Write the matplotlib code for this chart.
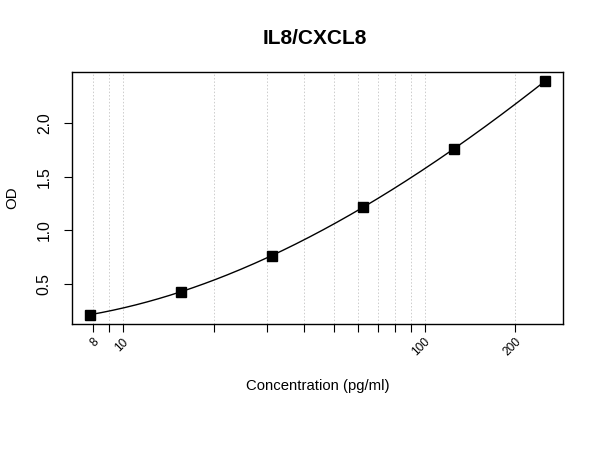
import numpy as np
import matplotlib
matplotlib.use("Agg")
import matplotlib.pyplot as plt
from matplotlib.ticker import FixedLocator, NullLocator, FixedFormatter

plt.rcParams['font.family'] = ['Liberation Sans', 'DejaVu Sans']

# standard curve points
conc = [7.8, 15.6, 31.25, 62.5, 125, 250]
od = [0.215, 0.43, 0.763, 1.22, 1.756, 2.389]

grid_x = [8, 9, 10, 20, 30, 40, 50, 60, 70, 80, 90, 100, 200]
label_x = [8, 10, 100, 200]
y_ticks = [0.5, 1.0, 1.5, 2.0]

fig = plt.figure(figsize=(6, 4.5), dpi=100)
ax = fig.add_axes([0.12, 0.28, 0.818, 0.56])

ax.set_xscale('log')
lx = np.log10(conc)
pad = (lx.max() - lx.min()) * 0.04
ax.set_xlim(10 ** (lx.min() - pad), 10 ** (lx.max() + pad))
ypad = (max(od) - min(od)) * 0.04
ax.set_ylim(min(od) - ypad, max(od) + ypad)

for g in grid_x:
    ax.axvline(g, color='#cccccc', lw=0.7, ls=(0, (1.5, 2)), zorder=0)

# smooth fit through the standards
coef = np.polyfit(lx, od, 3)
xs = np.linspace(lx.min(), lx.max(), 200)
ax.plot(10 ** xs, np.polyval(coef, xs), color='black', lw=1)
ax.plot(conc, od, 's', color='black', markersize=7.2, zorder=3)

ax.xaxis.set_major_locator(FixedLocator(grid_x))
ax.xaxis.set_minor_locator(NullLocator())
ax.xaxis.set_major_formatter(FixedFormatter([''] * len(grid_x)))
ax.yaxis.set_major_locator(FixedLocator(y_ticks))
ax.set_yticklabels([str(v) for v in y_ticks], rotation=90, va='center', fontsize=11.3)
ax.tick_params(direction='out', length=6, width=0.8, colors='black')
ax.tick_params(axis='y', pad=8.5)

for v in label_x:
    ax.annotate(str(v), xy=(v, 0), xycoords=('data', 'axes fraction'),
                xytext=(-0.5, -8.5), textcoords='offset points',
                rotation=45, ha='right', va='top', fontsize=8.6,
                rotation_mode='anchor')

for s in ax.spines.values():
    s.set_linewidth(1)

ax.set_xlabel('Concentration (pg/ml)', fontsize=10.7, labelpad=30)
ax.set_ylabel('OD', fontsize=10.8, labelpad=13)
fig.text(0.525, 0.915, 'IL8/CXCL8', ha='center', va='center',
         fontsize=15, fontweight='bold')

fig.savefig('out.png', dpi=100, facecolor='white')
